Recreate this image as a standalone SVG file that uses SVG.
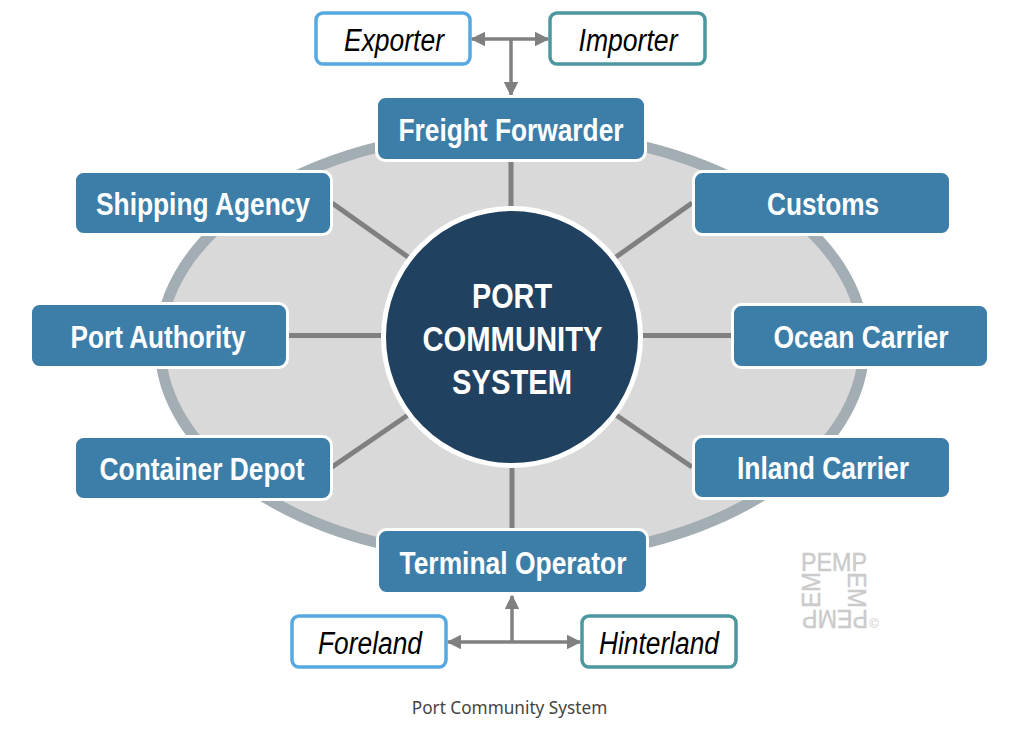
<svg xmlns="http://www.w3.org/2000/svg" width="1024" height="739" viewBox="0 0 1024 739">
<style>
.b{fill:#3d7ea8;stroke:#fff;stroke-width:3}
.t{font:bold 31px "Liberation Sans",Arial,sans-serif;fill:#fff;text-anchor:middle}
.i{font:italic 31px "Liberation Sans",Arial,sans-serif;fill:#000;text-anchor:middle}
.o{fill:#fff;stroke-width:3.5}
.s{stroke:#808080;stroke-width:5;fill:none}
.a{stroke:#808080;stroke-width:3.5;fill:none}
.w{font:25px "Liberation Sans",Arial,sans-serif;fill:#cbcbcb;stroke:#cbcbcb;stroke-width:.4}
</style>
<defs><marker id="m" viewBox="0 0 10 10" refX="9" refY="5" markerWidth="4.2" markerHeight="4.2" orient="auto-start-reverse"><path d="M0 0L10 5L0 10z" fill="#808080"/></marker></defs>
<ellipse id="ring" cx="512" cy="345" rx="352" ry="214" fill="#d9d9d9" stroke="#a3adb4" stroke-width="11"/>
<g id="connectors">
<path class="s" d="M511 160V215M512 460V530M332 203L408 257M692 203L616 257M288 335.500H385M640 335.500H732M332 467L408 415M692 467L616 415"/>
<path class="a" d="M472 39H548" marker-start="url(#m)" marker-end="url(#m)"/>
<path class="a" d="M511 39V95" marker-end="url(#m)"/>
<path class="a" d="M448 642H580" marker-start="url(#m)" marker-end="url(#m)"/>
<path class="a" d="M512 642V596" marker-end="url(#m)"/>
</g>
<g id="center"><circle cx="512" cy="337" r="128.500" fill="#20415f" stroke="#fff" stroke-width="5"/>
<text class="t" x="512" y="308" style="font-size:35px" textLength="80" lengthAdjust="spacingAndGlyphs">PORT</text>
<text class="t" x="512.500" y="351" style="font-size:35px" textLength="180" lengthAdjust="spacingAndGlyphs">COMMUNITY</text>
<text class="t" x="512" y="394" style="font-size:35px" textLength="120" lengthAdjust="spacingAndGlyphs">SYSTEM</text></g>
<g id="freight"><rect class="b" x="376.500" y="96.500" width="269" height="64" rx="9"/><text class="t" x="511" y="141" textLength="225" lengthAdjust="spacingAndGlyphs">Freight Forwarder</text></g>
<g id="shipping"><rect class="b" x="74.500" y="171.500" width="257" height="63" rx="9"/><text class="t" x="203" y="215" textLength="214" lengthAdjust="spacingAndGlyphs">Shipping Agency</text></g>
<g id="customs"><rect class="b" x="693.500" y="171.500" width="257" height="63" rx="9"/><text class="t" x="823" y="215" textLength="112" lengthAdjust="spacingAndGlyphs">Customs</text></g>
<g id="authority"><rect class="b" x="30.500" y="303.500" width="257" height="64" rx="9"/><text class="t" x="158" y="348" textLength="175" lengthAdjust="spacingAndGlyphs">Port Authority</text></g>
<g id="ocean"><rect class="b" x="732.500" y="304.500" width="256" height="63" rx="9"/><text class="t" x="861" y="348" textLength="175" lengthAdjust="spacingAndGlyphs">Ocean Carrier</text></g>
<g id="depot"><rect class="b" x="74.500" y="436.500" width="257" height="63" rx="9"/><text class="t" x="202" y="480" textLength="205" lengthAdjust="spacingAndGlyphs">Container Depot</text></g>
<g id="inland"><rect class="b" x="693.500" y="436.500" width="257" height="62" rx="9"/><text class="t" x="823" y="479" textLength="172" lengthAdjust="spacingAndGlyphs">Inland Carrier</text></g>
<g id="terminal"><rect class="b" x="377.500" y="529.500" width="270" height="64" rx="9"/><text class="t" x="513" y="574" textLength="227" lengthAdjust="spacingAndGlyphs">Terminal Operator</text></g>
<g id="exporter"><rect class="o" x="316" y="13" width="154" height="51" rx="7" stroke="#56a9e0"/><text class="i" x="394" y="51" textLength="100" lengthAdjust="spacingAndGlyphs">Exporter</text></g>
<g id="importer"><rect class="o" x="550" y="13" width="155" height="51" rx="7" stroke="#4b989f"/><text class="i" x="628" y="51" textLength="99" lengthAdjust="spacingAndGlyphs">Importer</text></g>
<g id="foreland"><rect class="o" x="292" y="616" width="154" height="51" rx="7" stroke="#56a9e0"/><text class="i" x="370" y="654" textLength="104" lengthAdjust="spacingAndGlyphs">Foreland</text></g>
<g id="hinterland"><rect class="o" x="582" y="616" width="154" height="51" rx="7" stroke="#4b989f"/><text class="i" x="659" y="654" textLength="120" lengthAdjust="spacingAndGlyphs">Hinterland</text></g>
<g id="watermark">
<text class="w" x="801" y="571" textLength="66" lengthAdjust="spacingAndGlyphs">PEMP</text>
<text class="w" transform="translate(848 572) rotate(90)" textLength="36" lengthAdjust="spacingAndGlyphs">EM</text>
<text class="w" transform="translate(868 610) rotate(180)" textLength="66" lengthAdjust="spacingAndGlyphs">PEMP</text>
<text class="w" transform="translate(820 608) rotate(-90)" textLength="36" lengthAdjust="spacingAndGlyphs">EM</text>
<text x="874" y="628" text-anchor="middle" style="font:13px 'Liberation Sans',sans-serif;fill:#cbcbcb">©</text>
</g>
<text id="caption" x="509.500" y="714" text-anchor="middle" style="font:17.200px 'Noto Sans','Open Sans',sans-serif;fill:#444">Port Community System</text>
</svg>
